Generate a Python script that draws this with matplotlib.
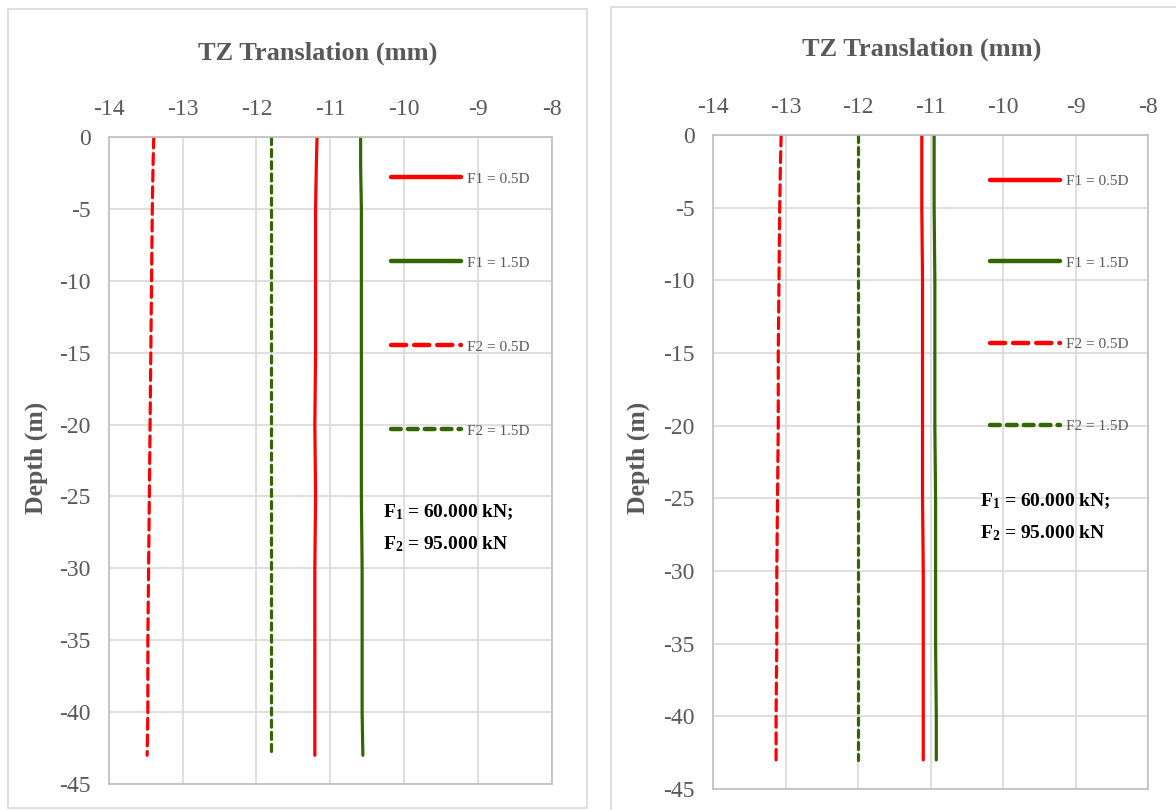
import numpy as np
import matplotlib
matplotlib.use('Agg')
import matplotlib.pyplot as plt
from matplotlib.patches import Rectangle

plt.rcParams['font.family'] = ['Liberation Serif', 'DejaVu Serif']
plt.rcParams['axes.unicode_minus'] = False
plt.rcParams['mathtext.fontset'] = 'custom'
plt.rcParams['mathtext.rm'] = 'Liberation Serif'
plt.rcParams['mathtext.bf'] = 'Liberation Serif:bold'
plt.rcParams['mathtext.default'] = 'bf'

# donnees
depth = [0, -2, -5, -10, -15, -20, -25, -30, -35, -40, -43]

left_f1_05 = [-11.18, -11.19, -11.20, -11.20, -11.20, -11.21, -11.20, -11.21, -11.21, -11.21, -11.21]
left_f1_15 = [-10.59, -10.59, -10.58, -10.58, -10.58, -10.58, -10.58, -10.57, -10.57, -10.57, -10.56]
left_f2_05 = [-13.39, -13.40, -13.41, -13.42, -13.43, -13.44, -13.45, -13.46, -13.47, -13.47, -13.48]
left_f2_15 = [-11.81, -11.81, -11.81, -11.81, -11.81, -11.81, -11.81, -11.81, -11.81, -11.81, -11.81]

right_f1_05 = [-11.12, -11.12, -11.12, -11.11, -11.11, -11.11, -11.11, -11.10, -11.10, -11.10, -11.10]
right_f1_15 = [-10.95, -10.95, -10.95, -10.94, -10.94, -10.94, -10.93, -10.93, -10.93, -10.92, -10.92]
right_f2_05 = [-13.06, -13.07, -13.08, -13.09, -13.10, -13.10, -13.11, -13.12, -13.12, -13.13, -13.13]
right_f2_15 = [-12.00, -12.00, -12.00, -12.00, -12.00, -12.00, -12.00, -12.00, -12.00, -12.00, -12.00]

labels = ['F1 = 0.5D', 'F1 = 1.5D', 'F2 = 0.5D', 'F2 = 1.5D']
xticks = [-14, -13, -12, -11, -10, -9, -8]
yticks = [0, -5, -10, -15, -20, -25, -30, -35, -40, -45]
note = 'F$_1$ = 60.000 kN;\nF$_2$ = 95.000 kN'

RED = '#FF0000'
GREEN = '#336600'
GREY = '#595959'
GRID = '#D9D9D9'

fig = plt.figure(figsize=(11.76, 8.10), dpi=100)
W, H = 1176, 810

# cadres des deux graphiques
fig.patches.append(Rectangle((8 / W, 2 / H), 579 / W, 799 / H, transform=fig.transFigure,
                             fill=False, edgecolor=GRID, lw=1.2))
fig.patches.append(Rectangle((611 / W, -5 / H), 600 / W, 808 / H, transform=fig.transFigure,
                             fill=False, edgecolor=GRID, lw=1.2))


def panel(rect, series, legend_anchor, lsp, note_xy, title_xy, ylab_xy):
    ax = fig.add_axes(rect)
    f1a, f1b, f2a, f2b = series
    ax.plot(f1a, depth, color=RED, lw=2.3, label=labels[0], solid_capstyle='round')
    ax.plot(f1b, depth, color=GREEN, lw=2.3, label=labels[1], solid_capstyle='round')
    ax.plot(f2a, depth, color=RED, lw=2.3, label=labels[2], dashes=(3.4, 1.8), dash_capstyle='round')
    ax.plot(f2b, depth, color=GREEN, lw=2.3, label=labels[3], dashes=(2.2, 1.6), dash_capstyle='round')

    ax.set_xlim(-14, -8)
    ax.set_ylim(-45, 0)
    ax.set_xticks(xticks)
    ax.set_yticks(yticks)
    ax.xaxis.tick_top()
    ax.tick_params(length=0, labelsize=17, labelcolor=GREY)
    ax.tick_params(axis='x', pad=12)
    ax.tick_params(axis='y', pad=13)
    ax.grid(True, color=GRID, lw=1.2)
    ax.set_axisbelow(True)
    for s in ax.spines.values():
        s.set_color('#BFBFBF')
        s.set_linewidth(1.2)

    leg = ax.legend(loc='upper left', bbox_to_anchor=legend_anchor, frameon=False,
                    fontsize=11, handlelength=4.6, handletextpad=0.4,
                    labelspacing=lsp, borderpad=0, borderaxespad=0)
    for t in leg.get_texts():
        t.set_color(GREY)
    for h in leg.get_lines():
        h.set_linewidth(3.2)

    ax.text(note_xy[0], note_xy[1], note, fontsize=14, fontweight='bold',
            va='top', ha='left', linespacing=1.85)

    fig.text(title_xy[0] / W, 1 - title_xy[1] / H, 'TZ Translation (mm)', fontsize=19,
             fontweight='bold', color=GREY, ha='center', va='center')
    fig.text(ylab_xy[0] / W, 1 - ylab_xy[1] / H, 'Depth (m)', fontsize=18.5,
             fontweight='bold', color=GREY, ha='center', va='center', rotation=90)
    return ax


panel([108.7 / W, 26 / H, 443.3 / W, 647 / H],
      (left_f1_05, left_f1_15, left_f2_05, left_f2_15),
      (0.637, 0.946), 4.6, (-10.29, -25.4), (318, 53), (36, 458))

panel([713 / W, 21 / H, 435 / W, 654 / H],
      (right_f1_05, right_f1_15, right_f2_05, right_f2_15),
      (0.637, 0.940), 4.45, (-10.32, -24.5), (922, 49), (638, 458))

plt.savefig('out.png', dpi=100, facecolor='white')
